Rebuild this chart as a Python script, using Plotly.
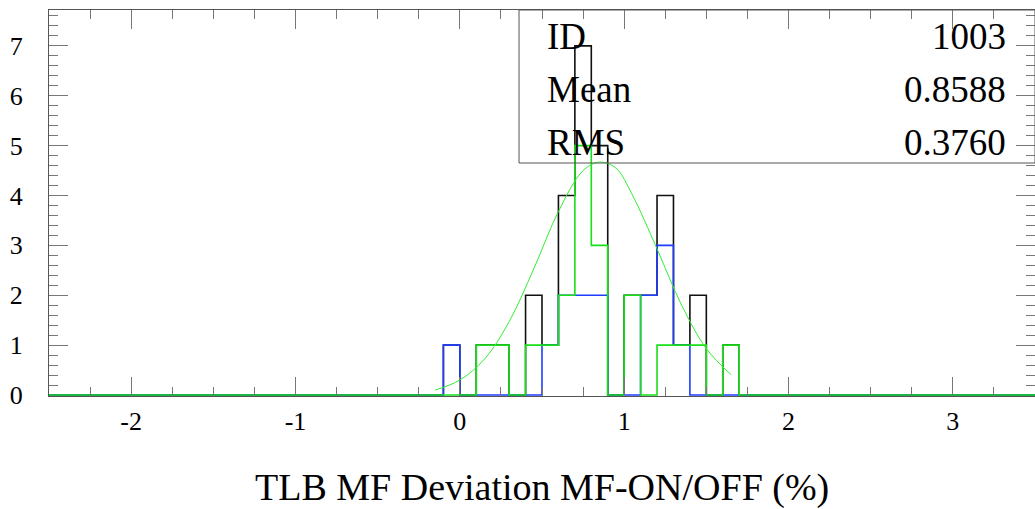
import plotly.graph_objects as go

# ---------------- data ----------------
# histogram range / binning (ROOT-style fixed bins)
x_min, x_max, bin_width = -2.5, 3.5, 0.1
# counts for the occupied bins, starting at the bin [-0.1, 0.0)
first_bin_low = -0.1
counts_black = [1, 0, 1, 1, 0, 2, 1, 4, 7, 5, 0, 2, 2, 4, 1, 2, 0, 1]
counts_blue  = [1, 0, 0, 0, 0, 0, 1, 2, 2, 2, 0, 0, 2, 3, 1, 0, 0, 0]
counts_green = [0, 0, 1, 1, 0, 1, 1, 2, 5, 3, 0, 2, 0, 1, 1, 1, 0, 1]

# gaussian fit curve
fit_x = [-0.15, 0.0, 0.15, 0.3, 0.45, 0.6, 0.75, 0.85, 0.95, 1.05, 1.2, 1.35, 1.5, 1.65]
fit_y = [0.10, 0.30, 0.72, 1.47, 2.53, 3.68, 4.50, 4.67, 4.55, 4.01, 2.93, 1.80, 0.93, 0.41]

stat_labels = ["ID", "Mean", "RMS"]
stat_values = ["1003", "0.8588", "0.3760"]

x_tick_vals = [-2, -1, 0, 1, 2, 3]
x_tick_text = ["-2", "-1", "0", "1", "2", "3"]
y_tick_vals = [0, 1, 2, 3, 4, 5, 6, 7]
y_tick_text = ["0", "1", "2", "3", "4", "5", "6", "7"]

x_title = "TLB MF Deviation MF-ON/OFF (%)"

# ---------------- build full histograms ----------------
n_bins = int(round((x_max - x_min) / bin_width))
edges = [round(x_min + i * bin_width, 3) for i in range(n_bins + 1)]
offset = int(round((first_bin_low - x_min) / bin_width))


def full_counts(c):
    full = [0] * n_bins
    for i, v in enumerate(c):
        full[offset + i] = v
    return full


def step_xy(c):
    full = full_counts(c)
    return edges, full + [full[-1]]


FONT = "Liberation Serif"
fig = go.Figure()

for counts, color in [(counts_black, "#111111"),
                      (counts_blue, "#1f3cff"),
                      (counts_green, "#16e016")]:
    xs, ys = step_xy(counts)
    fig.add_trace(go.Scatter(x=xs, y=ys, mode="lines", line_shape="hv",
                             line=dict(color=color, width=1.6),
                             hoverinfo="skip"))

fig.add_trace(go.Scatter(x=fit_x, y=fit_y, mode="lines", line_shape="spline",
                         line=dict(color="#33ee33", width=1), hoverinfo="skip"))

axis_common = dict(
    showgrid=False, zeroline=False, showline=True, linecolor="#555555",
    linewidth=1, mirror="ticks", ticks="inside", ticklen=19, tickwidth=1,
    tickcolor="#777777", tickfont=dict(family=FONT, size=26, color="black"),
)

fig.update_layout(
    width=1035, height=509,
    margin=dict(l=49, r=0, t=10, b=113),
    font=dict(family=FONT, color="black"),
    plot_bgcolor="white", paper_bgcolor="white",
    showlegend=False,
    xaxis=dict(range=[x_min, x_max], tickmode="array", tickvals=x_tick_vals,
               ticktext=x_tick_text, ticklabelstandoff=2,
               minor=dict(dtick=0.25, tick0=0, ticks="inside", ticklen=9,
                          tickcolor="#777777", showgrid=False),
               **axis_common),
    yaxis=dict(range=[-0.02, 7.72], tickmode="array", tickvals=y_tick_vals,
               ticktext=y_tick_text, ticklabelstandoff=20,
               minor=dict(dtick=0.2, tick0=0, ticks="inside", ticklen=9,
                          tickcolor="#777777", showgrid=False),
               **axis_common),
)

# stats box
box_left, box_bottom = 0.4767, 0.6036
fig.add_shape(type="rect", xref="paper", yref="paper",
              x0=box_left, x1=1.0, y0=box_bottom, y1=1.0,
              line=dict(color="#555555", width=1), fillcolor="rgba(0,0,0,0)")
row_y = [0.9326, 0.794, 0.6567]
for lab, val, yy in zip(stat_labels, stat_values, row_y):
    fig.add_annotation(xref="paper", yref="paper", x=0.503, y=yy, text=lab,
                       showarrow=False, xanchor="left", yanchor="middle",
                       font=dict(family=FONT, size=37, color="black"))
    fig.add_annotation(xref="paper", yref="paper", x=0.9726, y=yy, text=val,
                       showarrow=False, xanchor="right", yanchor="middle",
                       font=dict(family=FONT, size=37, color="black"))

fig.add_annotation(xref="paper", yref="paper", x=0.4995, y=-0.2358,
                   text=x_title, showarrow=False, xanchor="center",
                   yanchor="middle",
                   font=dict(family=FONT, size=38, color="black"))

# remove the default page margin so the figure fills the window exactly
fig.write_html(
    "out.html",
    config={"displayModeBar": False},
    post_script="document.body.style.margin='0';"
                "document.body.style.overflow='hidden';",
)
